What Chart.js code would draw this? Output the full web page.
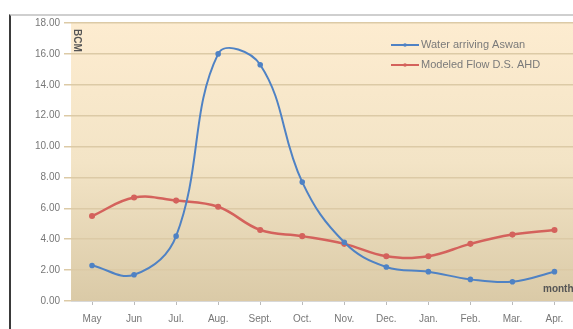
<!DOCTYPE html>
<html>
<head>
<meta charset="utf-8">
<script src="https://cdn.jsdelivr.net/npm/chart.js@4/dist/chart.umd.min.js"></script>
<style>
  html, body { margin: 0; padding: 0; background: #fff; overflow: hidden; width: 573px; height: 329px; }
  #marco {
    position: absolute; left: 9px; top: 14px; width: 564px; height: 315px;
    border-left: 2px solid #3a3a3a; border-top: 2px solid #cfcfcf;
    box-sizing: border-box;
  }
  #grafico { position: absolute; left: 0; top: 0; }
</style>
</head>
<body>
<div id="marco"></div>
<canvas id="grafico" width="582" height="333"></canvas>
<script>
const meses = ['May', 'Jun', 'Jul.', 'Aug.', 'Sept.', 'Oct.', 'Nov.', 'Dec.', 'Jan.', 'Feb.', 'Mar.', 'Apr.']
const aguaAswan = [2.3, 1.7, 4.2, 16.0, 15.3, 7.7, 3.8, 2.2, 1.9, 1.4, 1.25, 1.9]
const flujoModelado = [5.5, 6.7, 6.5, 6.1, 4.6, 4.2, 3.7, 2.9, 2.9, 3.7, 4.3, 4.6]
const nombres = ['Water arriving Aswan', 'Modeled Flow D.S. AHD']
const colores = ['#4f82c4', '#d4625c']
const fuente = '"Liberation Sans", Arial, sans-serif'

// fondo degradado del área de trazado
const fondoPlugin = {
    id: 'fondo',
    beforeDraw(chart) {
        const { ctx, chartArea: a } = chart
        const g = ctx.createLinearGradient(0, a.top, 0, a.bottom)
        g.addColorStop(0, '#fdecd0')
        g.addColorStop(0.5, '#f3e4c6')
        g.addColorStop(1, '#dacaa7')
        ctx.save()
        ctx.fillStyle = g
        ctx.fillRect(a.left, a.top, a.right - a.left, a.bottom - a.top)
        ctx.restore()
    }
}

// leyenda interna, título BCM y "month"
const textosPlugin = {
    id: 'textos',
    afterDraw(chart) {
        const { ctx, chartArea: a } = chart
        ctx.save()
        ctx.font = '11px ' + fuente
        ctx.textBaseline = 'middle'
        nombres.forEach((n, i) => {
            const y = 45 + i * 20
            ctx.strokeStyle = colores[i]
            ctx.lineWidth = 2
            ctx.beginPath()
            ctx.moveTo(391, y)
            ctx.lineTo(419, y)
            ctx.stroke()
            ctx.fillStyle = colores[i]
            ctx.beginPath()
            ctx.arc(405, y, 1.8, 0, Math.PI * 2)
            ctx.fill()
            ctx.fillStyle = '#7a7a7a'
            ctx.fillText(n, 421, y)
        })
        ctx.fillStyle = '#555'
        ctx.translate(77, 29)
        ctx.rotate(Math.PI / 2)
        ctx.font = 'bold 10px ' + fuente
        ctx.fillText('BCM', 0, 0)
        ctx.restore()

        ctx.save()
        ctx.beginPath()
        ctx.rect(a.left, a.top, a.right - a.left, a.bottom - a.top)
        ctx.clip()
        ctx.font = 'bold 10px ' + fuente
        ctx.fillStyle = '#555'
        ctx.textBaseline = 'middle'
        ctx.fillText('month', 543, a.bottom - 12)
        ctx.restore()
    }
}

const config = {
    type: 'line',
    data: {
        labels: meses,
        datasets: [
            {
                label: nombres[0],
                data: aguaAswan,
                borderColor: colores[0],
                backgroundColor: colores[0],
                borderWidth: 2,
                pointRadius: 1.8,
                tension: 0.4
            },
            {
                label: nombres[1],
                data: flujoModelado,
                borderColor: colores[1],
                backgroundColor: colores[1],
                borderWidth: 2.5,
                pointRadius: 1.8,
                tension: 0.4
            }
        ]
    },
    options: {
        responsive: false,
        animation: false,
        layout: { padding: { left: 31, right: 2, top: 23, bottom: 0 } },
        plugins: {
            legend: { display: false },
            tooltip: { enabled: false }
        },
        scales: {
            x: {
                offset: true,
                grid: { drawOnChartArea: false, color: '#bbb', tickLength: 4 },
                border: { color: '#d8d8d8' },
                ticks: {
                    color: '#777',
                    font: { size: 10, family: fuente },
                    maxRotation: 0,
                    padding: 8
                }
            },
            y: {
                min: 0,
                max: 18,
                grid: { color: '#dccaa6', lineWidth: 1.5, tickLength: 7 },
                border: { display: false },
                ticks: {
                    stepSize: 2,
                    color: '#777',
                    font: { size: 10, family: fuente },
                    padding: 4,
                    callback: v => v.toFixed(2)
                }
            }
        }
    },
    plugins: [fondoPlugin, textosPlugin]
}

new Chart(document.getElementById('grafico'), config)
</script>
</body>
</html>
